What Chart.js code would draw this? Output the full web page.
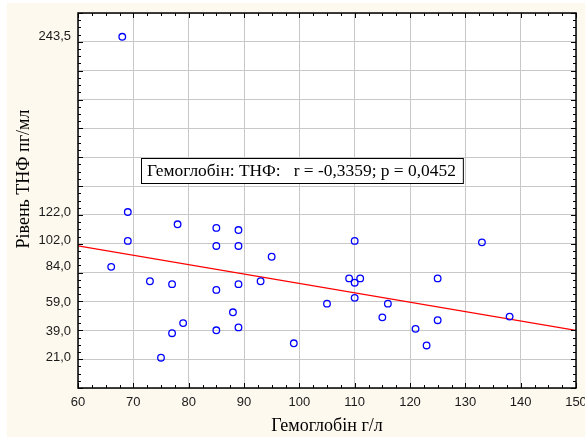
<!DOCTYPE html>
<html>
<head>
<meta charset="utf-8">
<script src="https://cdn.jsdelivr.net/npm/chart.js@4.4.0/dist/chart.umd.min.js"></script>
<style>
  html, body { margin: 0; padding: 0; background: #fff; }
  #wrap { width: 585px; height: 437px; position: relative; }
</style>
</head>
<body>
<div id="wrap"><canvas id="chart" width="585" height="437"></canvas></div>
<script>
// hemoglobin (g/l) vs TNF level (pg/ml)
const hgb = [68, 69, 69, 78, 66, 73, 77, 75, 77, 79, 85, 89, 85, 89, 95, 110, 109, 111,
             110, 85, 89, 93, 110, 133, 125, 105, 116, 115, 88, 85, 89, 99, 121, 123, 125, 138];
const tnf = [243.5, 122, 102, 113.5, 84, 74, 72, 21, 38, 45, 111, 109.5, 98.5, 98.5, 91, 102, 76, 76,
             73, 68, 72, 74, 62.5, 101, 76, 58.5, 58.5, 49, 52.5, 40, 42, 31, 41, 29.5, 47, 49.5];

// fitted line end points
const fitX = [60, 150];
const fitY = [98.5, 40];

// axis ticks
const yLabelVals = [21, 39, 59, 84, 102, 122, 243.5];
const yLabelText = ['21,0', '39,0', '59,0', '84,0', '102,0', '122,0', '243,5'];
const yGridVals = [0, 20, 40, 60, 80, 100, 120, 140, 160, 180, 200, 220, 240, 260];

const yTitle = 'Рівень ТНФ пг/мл';
const statText = 'Гемоглобін: ТНФ:   r = -0,3359; p = 0,0452';

const serif = "'Liberation Serif', 'Times New Roman', serif";
const sans = "'Liberation Sans', Arial, sans-serif";

// background, frame ticks, y title and the stat box
const decor = {
  id: 'decor',
  beforeDraw(chart) {
    const c = chart.ctx, a = chart.chartArea;
    c.save();
    c.fillStyle = '#ffffff';
    c.fillRect(0, 0, chart.width, chart.height);
    c.fillStyle = '#fdf9ef';
    c.fillRect(7, 3, chart.width - 7, chart.height - 3);
    c.fillStyle = '#ffffff';
    c.fillRect(a.left, a.top, a.right - a.left, a.bottom - a.top);
    c.restore();
  },
  afterDraw(chart) {
    const c = chart.ctx, a = chart.chartArea;
    const xs = chart.scales.x, ys = chart.scales.y;
    c.save();
    c.strokeStyle = '#000';
    c.lineWidth = 1;
    c.beginPath();
    // x ticks (top and bottom), minor every 2.5
    for (let v = 60; v <= 150; v += 2.5) {
      const px = Math.round(xs.getPixelForValue(v)) + 0.5;
      const len = (v % 10 === 0) ? 5 : 3;
      c.moveTo(px, a.bottom); c.lineTo(px, a.bottom - len);
      c.moveTo(px, a.top); c.lineTo(px, a.top + len);
    }
    // y ticks (left and right), minor every 5
    for (let v = 0; v <= 260; v += 5) {
      const py = Math.round(ys.getPixelForValue(v)) + 0.5;
      const len = (v % 20 === 0) ? 5 : 3;
      c.moveTo(a.left, py); c.lineTo(a.left + len, py);
      c.moveTo(a.right, py); c.lineTo(a.right - len, py);
    }
    c.stroke();
    c.lineWidth = 1.5;
    c.strokeRect(a.left, a.top, a.right - a.left, a.bottom - a.top);

    // y title, sits above the middle like in the original
    c.save();
    c.translate(24, a.top + 166);
    c.rotate(-Math.PI / 2);
    c.font = '18px ' + serif;
    c.fillStyle = '#000';
    c.textAlign = 'center';
    c.textBaseline = 'middle';
    c.fillText(yTitle, 0, 0);
    c.restore();

    // stat box
    c.font = '17.4px ' + serif;
    const w = c.measureText(statText).width;
    const bx = a.left + 63, by = a.top + 145;
    const bw = w + 13, bh = 25;
    c.fillStyle = '#fff';
    c.fillRect(bx, by, bw, bh);
    c.lineWidth = 1;
    c.strokeStyle = '#000';
    c.strokeRect(bx + 0.5, by + 0.5, bw, bh);
    c.fillStyle = '#000';
    c.textBaseline = 'middle';
    c.fillText(statText, bx + 6, by + bh / 2 + 1);
    c.restore();
  }
};

new Chart(document.getElementById('chart'), {
  type: 'scatter',
  data: {
    datasets: [
      {
        label: 'points',
        data: hgb.map((x, i) => ({ x: x, y: tnf[i] })),
        pointStyle: 'circle',
        pointRadius: 3.3,
        pointBorderWidth: 1.3,
        pointBorderColor: '#0000ff',
        pointBackgroundColor: 'rgba(0,0,0,0)',
        showLine: false
      },
      {
        label: 'fit',
        data: fitX.map((x, i) => ({ x: x, y: fitY[i] })),
        showLine: true,
        borderColor: '#ff0000',
        borderWidth: 1.2,
        pointRadius: 0
      }
    ]
  },
  options: {
    responsive: false,
    animation: false,
    layout: { padding: { top: 13, right: 9, left: 0, bottom: 0 } },
    plugins: {
      legend: { display: false },
      tooltip: { enabled: false }
    },
    scales: {
      x: {
        type: 'linear',
        min: 60, max: 150,
        ticks: {
          stepSize: 10,
          color: '#1a1a1a',
          font: { family: sans, size: 13 },
          padding: 7
        },
        grid: { color: '#c8c8c8', drawTicks: false },
        border: { display: false },
        title: {
          display: true,
          text: 'Гемоглобін г/л',
          color: '#000',
          font: { family: serif, size: 18 },
          padding: { top: 7, bottom: 0 }
        },
        afterFit(s) {
          s.height = 49;
          s.paddingLeft = 0;
          s.paddingRight = 0;
        }
      },
      y: {
        type: 'linear',
        min: 0, max: 260,
        afterBuildTicks(s) {
          const vals = yGridVals.concat(yLabelVals).sort((p, q) => p - q);
          s.ticks = vals.map(v => ({ value: v }));
        },
        ticks: {
          autoSkip: false,
          color: '#1a1a1a',
          font: { family: sans, size: 13 },
          padding: 7,
          callback(v) {
            const i = yLabelVals.indexOf(v);
            return i >= 0 ? yLabelText[i] : '';
          }
        },
        grid: {
          drawTicks: false,
          color(ctx) {
            return yGridVals.includes(ctx.tick && ctx.tick.value) ? '#c8c8c8' : 'rgba(0,0,0,0)';
          }
        },
        border: { display: false },
        title: { display: false },
        afterFit(s) {
          s.width = 78;
          s.paddingTop = 0;
          s.paddingBottom = 0;
        }
      }
    }
  },
  plugins: [decor]
});
</script>
</body>
</html>
